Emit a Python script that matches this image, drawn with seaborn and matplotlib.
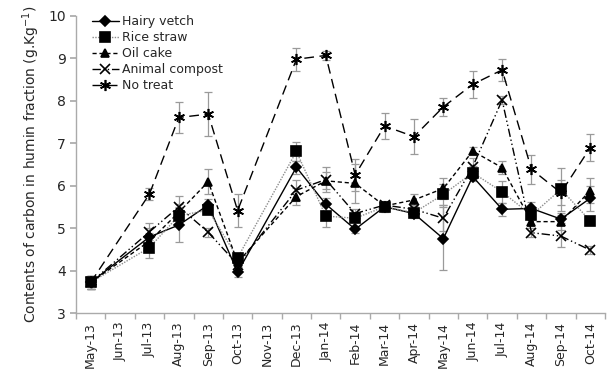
import matplotlib
matplotlib.use("Agg")
import matplotlib.pyplot as plt
import numpy as np
import pandas as pd
import seaborn as sns

months = ["May-13", "Jun-13", "Jul-13", "Aug-13", "Sep-13", "Oct-13", "Nov-13", "Dec-13",
          "Jan-14", "Feb-14", "Mar-14", "Apr-14", "May-14", "Jun-14", "Jul-14", "Aug-14",
          "Sep-14", "Oct-14"]
sampled = ["May-13", "Jul-13", "Aug-13", "Sep-13", "Oct-13", "Dec-13", "Jan-14", "Feb-14",
           "Mar-14", "Apr-14", "May-14", "Jun-14", "Jul-14", "Aug-14", "Sep-14", "Oct-14"]

hairy_vetch = [3.73, 4.80, 5.08, 5.55, 3.97, 6.44, 5.57, 4.98, 5.51, 5.35, 4.76, 6.22, 5.45, 5.47, 5.22, 5.71]
hairy_vetch_err = [0.15, 0.2, 0.4, 0.15, 0.12, 0.15, 0.15, 0.08, 0.1, 0.1, 0.74, 0.1, 0.15, 0.15, 0.1, 0.3]
rice_straw = [3.73, 4.55, 5.30, 5.43, 4.31, 6.81, 5.29, 5.24, 5.51, 5.37, 5.80, 6.31, 5.86, 5.31, 5.92, 5.18]
rice_straw_err = [0.15, 0.25, 0.2, 0.1, 0.1, 0.22, 0.25, 0.1, 0.12, 0.1, 0.25, 0.15, 0.25, 0.1, 0.5, 0.1]
oil_cake = [3.73, 4.70, 5.38, 6.10, 4.20, 5.75, 6.12, 6.06, 5.53, 5.67, 5.94, 6.82, 6.43, 5.16, 5.16, 5.89]
oil_cake_err = [0.15, 0.2, 0.2, 0.3, 0.1, 0.2, 0.2, 0.45, 0.1, 0.15, 0.25, 0.1, 0.15, 0.1, 0.2, 0.3]
animal_compost = [3.73, 4.92, 5.51, 4.91, 4.15, 5.90, 6.15, 5.35, 5.55, 5.45, 5.24, 6.45, 8.02, 4.90, 4.82, 4.49]
animal_compost_err = [0.15, 0.2, 0.25, 0.1, 0.1, 0.25, 0.3, 0.1, 0.1, 0.1, 0.3, 0.2, 0.1, 0.1, 0.25, 0.1]
no_treat = [3.73, 5.81, 7.61, 7.69, 5.42, 8.98, 9.07, 6.26, 7.41, 7.16, 7.86, 8.39, 8.73, 6.39, 5.84, 6.90]
no_treat_err = [0.15, 0.15, 0.37, 0.52, 0.39, 0.27, 0.1, 0.38, 0.3, 0.42, 0.22, 0.31, 0.26, 0.34, 0.3, 0.32]

series = [
    ("Hairy vetch", hairy_vetch, hairy_vetch_err),
    ("Rice straw", rice_straw, rice_straw_err),
    ("Oil cake", oil_cake, oil_cake_err),
    ("Animal compost", animal_compost, animal_compost_err),
    ("No treat", no_treat, no_treat_err),
]

styles = {
    "Hairy vetch": dict(color="black", linestyle="-", marker="D", markersize=5),
    "Rice straw": dict(color="#8c8c8c", linestyle=(0, (1, 1)), marker="s", markersize=7),
    "Oil cake": dict(color="black", linestyle=(0, (3, 2)), marker="^", markersize=6),
    "Animal compost": dict(color="black", linestyle=(0, (6, 2, 1, 2, 1, 2)), marker="x", markersize=7),
    "No treat": dict(color="black", linestyle=(0, (7, 4)), marker=(6, 2, 0), markersize=8),
}

sns.set_theme(style="white")
plt.rcParams["font.family"] = ["DejaVu Sans"]

fig = plt.figure(figsize=(6.08, 3.79), dpi=100)
ax = fig.add_axes([0.125, 0.173, 0.87, 0.785])

pos = {m: i for i, m in enumerate(months)}
for name, vals, errs in series:
    df = pd.DataFrame({"x": [pos[m] for m in sampled], "y": vals, "err": errs})
    st = styles[name]
    ax.errorbar(df["x"], df["y"], yerr=df["err"], fmt="none", ecolor="#9a9a9a",
                elinewidth=0.9, capsize=3, capthick=0.9, zorder=1)
    sns.lineplot(data=df, x="x", y="y", ax=ax, color=st["color"], linestyle=st["linestyle"],
                 linewidth=1.0, marker=st["marker"], markersize=st["markersize"],
                 markerfacecolor="black", markeredgecolor="black", markeredgewidth=1.2,
                 label=name, zorder=3)

ax.set_xlim(-0.5, len(months) - 0.5)
ax.set_ylim(3, 10)
ax.set_yticks(range(3, 11))
ax.set_xticks(range(len(months)))
ax.set_xticklabels(months, rotation=90, fontsize=9)
ax.set_xticks(np.arange(-0.5, len(months), 1), minor=True)
ax.tick_params(axis="x", which="major", length=0, pad=6)
ax.tick_params(axis="x", which="minor", length=4, color="#aaaaaa", direction="out", bottom=True)
ax.tick_params(axis="y", length=4, color="#aaaaaa", direction="out", left=True, labelsize=10)
ax.set_xlabel("")
ax.set_ylabel("Contents of carbon in humin fraction (g.Kg$^{-1}$)", fontsize=10)
for side in ["top", "right"]:
    ax.spines[side].set_visible(False)
for side in ["left", "bottom"]:
    ax.spines[side].set_color("#aaaaaa")
    ax.spines[side].set_linewidth(1)

ax.legend(loc="upper left", bbox_to_anchor=(0.02, 1.02), frameon=False, fontsize=9,
          handlelength=2.2, handletextpad=0.2, labelspacing=0.25, borderaxespad=0)

fig.savefig("out.png", dpi=100)
